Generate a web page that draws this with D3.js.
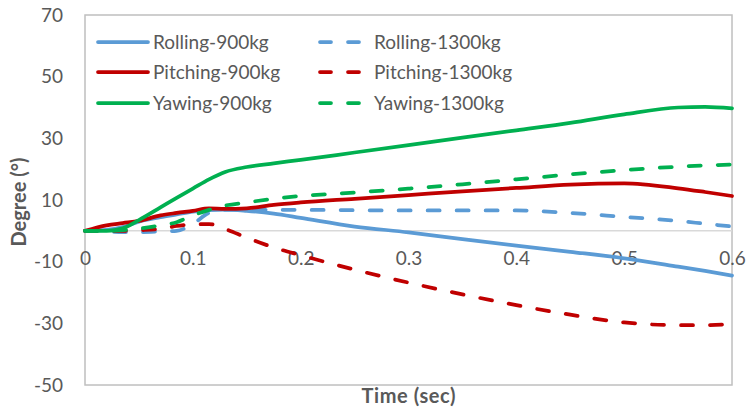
<!DOCTYPE html>
<html>
<head>
<meta charset="utf-8">
<script src="https://cdn.jsdelivr.net/npm/d3@7"></script>
<style>
  body { margin: 0; background: #fff; }
  text { font-family: Lato, "Open Sans", sans-serif; fill: #595959; }
</style>
</head>
<body>
<div id="chart"></div>
<script>
// time points (sec)
var times = [0, 0.02, 0.035, 0.05, 0.07, 0.085, 0.1, 0.115, 0.13, 0.15, 0.175, 0.2, 0.25, 0.3, 0.35, 0.4, 0.45, 0.5, 0.55, 0.575, 0.6];

// degree values
var rolling900   = [0, 0.3, 1.2, 3.0, 4.4, 5.3, 6.2, 6.7, 6.9, 6.5, 5.6, 4.2, 1.4, -0.5, -2.7, -4.8, -6.8, -8.9, -11.6, -13.0, -14.5];
var rolling1300  = [0, -0.2, -0.4, -0.4, -0.2, 0.0, 2.2, 5.8, 6.8, 6.9, 6.8, 6.8, 6.7, 6.6, 6.6, 6.6, 5.8, 4.5, 3.2, 2.3, 1.4];
var pitching900  = [0, 1.8, 2.5, 3.2, 5.0, 5.8, 6.5, 7.3, 7.1, 7.3, 8.4, 9.2, 10.4, 11.6, 12.8, 13.9, 15.0, 15.4, 13.8, 12.6, 11.3];
var pitching1300 = [0, 0, 0, 0.2, 0.6, 1.6, 2.1, 2.2, 0.6, -2.2, -5.4, -7.9, -12.6, -16.8, -20.6, -24.1, -27.2, -29.7, -30.6, -30.6, -30.2];
var yawing900    = [0, 0, 0.8, 3.5, 7.6, 10.7, 13.7, 16.7, 19.1, 20.7, 21.9, 23.0, 25.4, 27.8, 30.2, 32.6, 35.0, 37.8, 40.0, 40.2, 39.7];
var yawing1300   = [0, 0, 0.2, 0.7, 1.8, 2.8, 5.0, 6.8, 8.2, 9.2, 10.4, 11.3, 12.4, 13.7, 15.1, 16.7, 18.3, 19.7, 20.8, 21.2, 21.5];

var seriesNames = ["Rolling-900kg", "Rolling-1300kg", "Pitching-900kg", "Pitching-1300kg", "Yawing-900kg", "Yawing-1300kg"];
var seriesValues = [rolling900, rolling1300, pitching900, pitching1300, yawing900, yawing1300];
var seriesColors = ["#5B9BD5", "#5B9BD5", "#C00000", "#C00000", "#00B050", "#00B050"];
var seriesDashed = [false, true, false, true, false, true];

var yTicks = [70, 50, 30, 10, -10, -30, -50];
var xTicks = [0, 0.1, 0.2, 0.3, 0.4, 0.5, 0.6];

var width = 749, height = 419;
var margin = {top: 15, right: 17, bottom: 34, left: 85};
var w = width - margin.left - margin.right,
    h = height - margin.top - margin.bottom;

var svg = d3.select("#chart")
  .append("svg")
  .attr("width", width)
  .attr("height", height)
  .append("g")
  .attr("transform", "translate(" + margin.left + "," + margin.top + ")");

var x = d3.scaleLinear().domain([0, 0.6]).range([0, w]);
var y = d3.scaleLinear().domain([-50, 70]).range([h, 0]);

// plot area border
svg.append("rect")
  .attr("x", 0).attr("y", 0)
  .attr("width", w).attr("height", h)
  .attr("fill", "none")
  .attr("stroke", "#BFBFBF")
  .attr("stroke-width", 1.5);

// zero line (x axis)
svg.append("line")
  .attr("x1", 0).attr("x2", w)
  .attr("y1", y(0)).attr("y2", y(0))
  .attr("stroke", "#D9D9D9")
  .attr("stroke-width", 1.5);

// y axis labels (plain hyphen for negatives, like the original)
var yAxis = svg.append("g")
  .call(d3.axisLeft(y).tickValues(yTicks).tickSize(0).tickPadding(22)
    .tickFormat(function(d) { return String(d); }));
yAxis.select(".domain").remove();
yAxis.selectAll("text")
  .style("font-family", "Lato, sans-serif")
  .style("font-size", "19px")
  .attr("fill", "#595959");

// x axis labels, under zero line
var xAxis = svg.append("g")
  .attr("transform", "translate(0," + y(0) + ")")
  .call(d3.axisBottom(x).tickValues(xTicks).tickSize(0).tickPadding(21)
    .tickFormat(function(d) { return d === 0 ? "0" : d.toFixed(1); }));
xAxis.select(".domain").remove();
xAxis.selectAll("text")
  .style("font-family", "Lato, sans-serif")
  .style("font-size", "19px")
  .attr("fill", "#595959");

// axis titles
svg.append("text")
  .attr("transform", "translate(" + (18 - margin.left) + "," + (202 - margin.top) + ") rotate(-90)")
  .attr("text-anchor", "middle")
  .attr("dominant-baseline", "central")
  .attr("textLength", 89)
  .attr("lengthAdjust", "spacing")
  .style("font-size", "20px")
  .style("font-weight", "bold")
  .text("Degree (°)");

svg.append("text")
  .attr("x", w / 2)
  .attr("y", h + 18)
  .attr("text-anchor", "middle")
  .attr("textLength", 94)
  .attr("lengthAdjust", "spacing")
  .style("font-size", "20px")
  .style("font-weight", "bold")
  .text("Time (sec)");

// lines
var line = d3.line()
  .x(function(d) { return x(d[0]); })
  .y(function(d) { return y(d[1]); })
  .curve(d3.curveMonotoneX);

seriesValues.forEach(function(vals, i) {
  var pts = times.map(function(t, j) { return [t, vals[j]]; });
  svg.append("path")
    .datum(pts)
    .attr("fill", "none")
    .attr("stroke", seriesColors[i])
    .attr("stroke-width", 3.75)
    .attr("stroke-linecap", "round")
    .attr("stroke-linejoin", "round")
    .attr("stroke-dasharray", seriesDashed[i] ? "12,17" : null)
    .attr("d", line);
});

// legend
var legendRows = [42, 72, 103];
seriesNames.forEach(function(name, i) {
  var col = i % 2, row = Math.floor(i / 2);
  var ly = legendRows[row] - margin.top;
  var lx = col === 0 ? 98 - margin.left : 318 - margin.left;
  var len = col === 0 ? 50 : 45;
  var g = svg.append("g");
  g.append("line")
    .attr("x1", lx + (seriesDashed[i] ? 2 : 0)).attr("x2", lx + len - (seriesDashed[i] ? 2 : 0))
    .attr("y1", ly).attr("y2", ly)
    .attr("stroke", seriesColors[i])
    .attr("stroke-width", 3.75)
    .attr("stroke-linecap", "round")
    .attr("stroke-dasharray", seriesDashed[i] ? "11,17" : null);
  g.append("text")
    .attr("x", col === 0 ? 153 - margin.left : 374 - margin.left)
    .attr("y", ly)
    .attr("dy", "0.35em")
    .style("font-size", "19px")
    .text(name);
});
</script>
</body>
</html>
